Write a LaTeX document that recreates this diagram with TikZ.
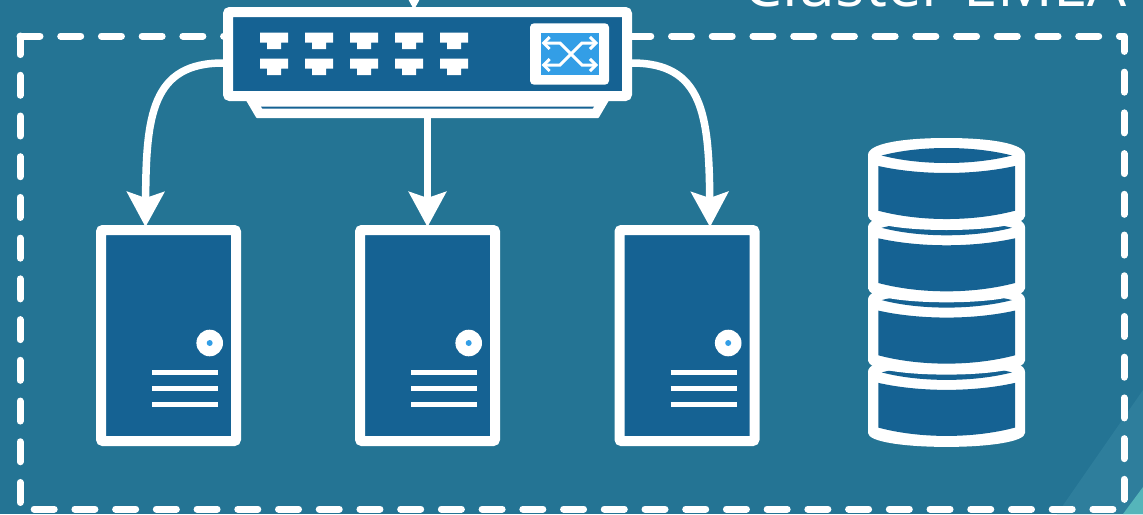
\documentclass[tikz,border=0pt]{standalone}
\usepackage{fontspec}
\setmainfont{Open Sans}
\usetikzlibrary{calc,positioning,arrows.meta}
\definecolor{bluebackground}{HTML}{247494}
\definecolor{boxblue}{HTML}{156293}
\definecolor{iconblue}{HTML}{339EE6}
\definecolor{cornerlight}{HTML}{2E7E9C}
\definecolor{cornerteal}{HTML}{55B5BA}

\tikzset{
    machine/.style={draw=white,fill=boxblue,line width=10pt,rounded corners=2pt,inner sep=0pt},
    link/.style={draw=white,line width=7.5pt,-{Stealth[length=35pt,width=37pt,inset=6pt]}},
    swaparrow/.style={white,line width=3pt,{Straight Barb[length=6pt,width=12pt]}-{Straight Barb[length=6pt,width=12pt]}},
    frameline/.style={draw=white,line width=7pt,line cap=round,line join=round,dash pattern=on 20pt off 20.72pt}
}

\newcommand{\switchport}[2]{
    \draw[fill=white,draw=none](#1,#2) -- ++(28,0) -- ++(0,10) -- ++(-7,0) -- ++(0,6.3) -- ++(-14,0) -- ++(0,-6.3) -- ++(-7,0) -- cycle;
}
\newcommand{\serverparts}[1]{
    \draw[fill=white,draw=none]($(#1.center)+(41.2,7.5)$) circle (13.3);
    \draw[fill=iconblue,draw=none]($(#1.center)+(41.2,7.5)$) circle (3);
    \draw[white,line width=5.4pt]($(#1.center)+(-16.5,36.8)$) -- ++(66,0);
    \draw[white,line width=5.4pt]($(#1.center)+(-16.5,52.8)$) -- ++(66,0);
    \draw[white,line width=5.4pt]($(#1.center)+(-16.5,68.8)$) -- ++(66,0);
}
\newcommand{\dbdisk}[1]{
    \begin{scope}[shift={(0,#1)}]
    \draw[fill=white,draw=none](868,155) .. controls (868,143) and (905,138) .. (946.5,138) .. controls (988,138) and (1025,143) .. (1025,155) -- (1025,216) .. controls (1025,225) and (988,230) .. (946.5,230) .. controls (905,230) and (868,225) .. (868,216) -- cycle;
    \draw[fill=boxblue,draw=none](881.7,155.5) .. controls (920,145.5) and (973,145.5) .. (1012,155.5) .. controls (973,165.5) and (920,165.5) .. (881.7,155.5) -- cycle;
    \draw[fill=boxblue,draw=none](878.3,166) .. controls (920,175.3) and (973,175.3) .. (1015,166) -- (1015,210.7) .. controls (973,221.8) and (920,221.8) .. (878.3,210.7) -- cycle;
    \end{scope}
}

\begin{document}
\begin{tikzpicture}[x=1pt,y=-1pt]

    \useasboundingbox (0,0) rectangle (1143,514);
    \clip (0,0) rectangle (1143,514);

    \draw[fill=bluebackground,draw=none](0,0) rectangle (1143,514);
    \draw[fill=cornerlight,draw=none](1057,514) -- (1143,390) -- (1143,514) -- cycle;
    \draw[fill=cornerteal,draw=none](1123,514) -- (1143,487) -- (1143,514) -- cycle;

    \node[anchor=base east,inner sep=0pt,white,font=\fontsize{61.8}{62}\selectfont] (title) at (1127,6) {Cluster EMEA};

    \draw[frameline](20,36) -- (1124,36) -- (1124,509) -- (20,509) -- cycle;

    % switch
    \draw[fill=white,draw=white,line width=2pt,line join=round](247,100) -- (257,117) -- (598,117) -- (608,100) -- cycle;
    \draw[fill=boxblue,draw=none](261,106.7) -- (594,106.7) -- (592.5,108.7) -- (262.5,108.7) -- cycle;
    \node[machine,minimum width=399pt,minimum height=84pt] (switch) at (427.5,54) {};

    \switchport{260}{32.7}
    \switchport{305}{32.7}
    \switchport{350}{32.7}
    \switchport{395}{32.7}
    \switchport{440}{32.7}
    \switchport{260}{58.7}
    \switchport{305}{58.7}
    \switchport{350}{58.7}
    \switchport{395}{58.7}
    \switchport{440}{58.7}

    \draw[fill=white,draw=none,rounded corners=4pt](530,23.3) rectangle (609,84.7);
    \draw[fill=iconblue,draw=none](540.7,33.3) rectangle (598.7,75.3);
    \draw[swaparrow](541.5,43) -- (560,43) -- (582,65) -- (598,65);
    \draw[swaparrow](541.5,65) -- (560,65) -- (582,43) -- (598,43);

    % servers
    \node[machine,minimum width=135pt,minimum height=211pt] (server1) at (168.5,335.5) {};
    \node[machine,minimum width=135pt,minimum height=211pt] (server2) at (427.5,335.5) {};
    \node[machine,minimum width=135pt,minimum height=211pt] (server3) at (687,335.5) {};
    \serverparts{server1}
    \serverparts{server2}
    \serverparts{server3}

    % links
    \coordinate (uplink) at (414,-40);
    \coordinate (upport) at (414,10);
    \coordinate (standbase) at (427.5,116);
    \coordinate (leftport) at (223,63);
    \coordinate (rightport) at (632,63);
    \coordinate (lefttip) at (145.5,227);
    \coordinate (midtip) at (427.5,227);
    \coordinate (righttip) at (710,227);

    \draw[link](uplink) -- (upport);
    \draw[link](standbase) -- (midtip);
    \draw[link](leftport) .. controls (152,63) and (146,115) .. (lefttip);
    \draw[link](rightport) .. controls (703,63) and (709,115) .. (righttip);

    % database
    \dbdisk{216.9}
    \dbdisk{144.6}
    \dbdisk{72.3}
    \dbdisk{0}
\end{tikzpicture}
\end{document}
